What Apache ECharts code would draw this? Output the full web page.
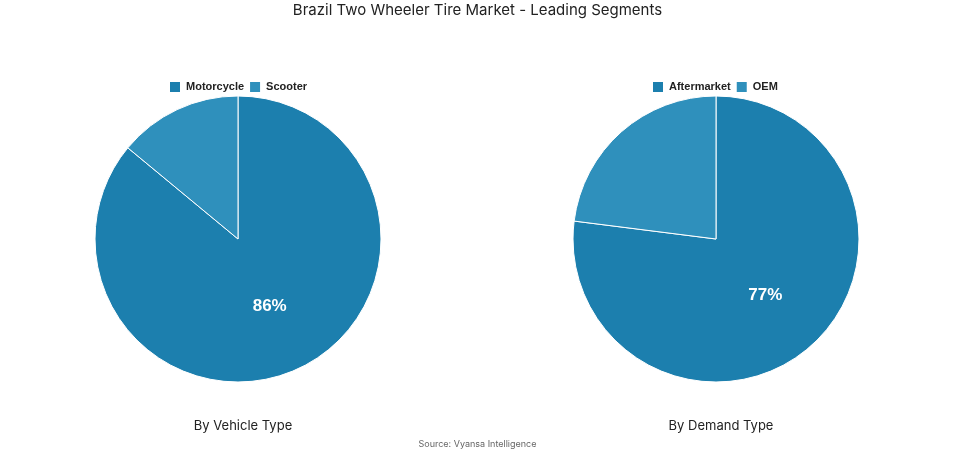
<!DOCTYPE html>
<html>
<head>
<meta charset="utf-8">
<script src="https://cdn.jsdelivr.net/npm/echarts@6/dist/echarts.min.js"></script>
<style>html,body{margin:0;padding:0;background:#fff}#main{width:955px;height:454px}</style>
</head>
<body>
<div id="main"></div>
<script>
const vehicleNames = ['Motorcycle', 'Scooter'];
const vehicleValues = [86, 14];
const demandNames = ['Aftermarket', 'OEM'];
const demandValues = [77, 23];
const colors = ['#1c7fae', '#2f90bc'];

function makeData(names, values) {
  return names.map((n, i) => ({
    name: n, value: values[i],
    label: { show: i === 0 }
  }));
}

const chart = echarts.init(document.getElementById('main'));
const pieBase = {
  type: 'pie',
  radius: [0, 143],
  startAngle: 90,
  clockwise: true,
  silent: true,
  itemStyle: { borderColor: '#ffffff', borderWidth: 1 },
  label: {
    position: 'inner', formatter: '{c}%', color: '#ffffff',
    fontSize: 17, fontWeight: 'bold', fontFamily: 'Liberation Sans'
  },
  labelLine: { show: false }
};
const legendText = { fontSize: 11, fontWeight: 'bold', color: '#222', fontFamily: 'Liberation Sans' };
chart.setOption({
  color: colors,
  animation: false,
  title: [
    { text: 'Brazil Two Wheeler Tire Market - Leading Segments', left: 'center', top: -2,
      textStyle: { fontSize: 15, fontWeight: 'normal', color: '#222', fontFamily: 'Inter' } },
    { text: 'By Vehicle Type', left: 238, top: 415, textAlign: 'center',
      textStyle: { fontSize: 13, fontWeight: 'normal', color: '#222', fontFamily: 'Inter' } },
    { text: 'By Demand Type', left: 716, top: 415, textAlign: 'center',
      textStyle: { fontSize: 13, fontWeight: 'normal', color: '#222', fontFamily: 'Inter' } },
    { text: 'Source: Vyansa Intelligence', left: 'center', top: 435,
      textStyle: { fontSize: 9, fontWeight: 'normal', color: '#666', fontFamily: 'Inter' } }
  ],
  legend: [
    { data: vehicleNames, left: 163, top: 75, itemWidth: 12, itemHeight: 12, itemGap: 4,
      icon: 'rect', textStyle: legendText },
    { data: demandNames, left: 646, top: 75, itemWidth: 12, itemHeight: 12, itemGap: 4,
      icon: 'rect', textStyle: legendText }
  ],
  series: [
    Object.assign({}, pieBase, { center: [238, 239], data: makeData(vehicleNames, vehicleValues) }),
    Object.assign({}, pieBase, { center: [716, 239], data: makeData(demandNames, demandValues) })
  ]
});
</script>
</body>
</html>
